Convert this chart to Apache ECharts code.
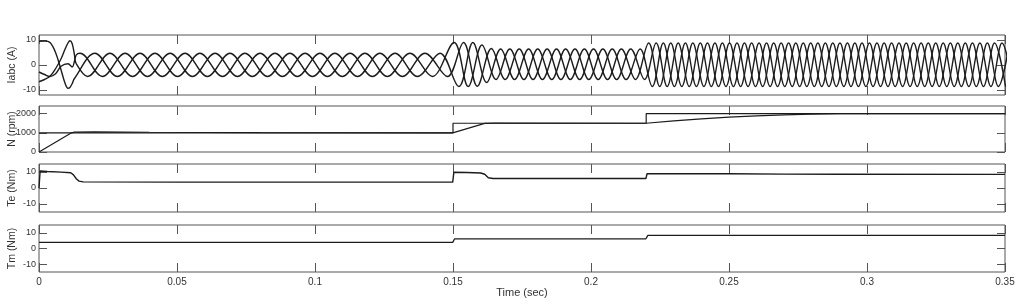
<!DOCTYPE html>
<html>
<head>
<meta charset="utf-8">
<script src="https://cdn.jsdelivr.net/npm/echarts@6/dist/echarts.min.js"></script>
<style>html,body{margin:0;padding:0;background:#fff}#c{width:1024px;height:306px}</style>
</head>
<body>
<div id="c"></div>
<script>
// ---- data ----
const timeTicks = [0, 0.05, 0.1, 0.15, 0.2, 0.25, 0.3, 0.35];
const currentTicks = [-10, 0, 10];
const speedTicks = [0, 1000, 2000];
const torqueTicks = [-10, 0, 10];
const axisNames = ['Iabc (A)', 'N (rpm)', 'Te (Nm)', 'Tm (Nm)'];

// phase currents: start-up transient, then peaks / troughs of each phase
const iaData = [[0,9.5],[0.002,9.6],[0.004,9.0],[0.006,5.0],[0.008,-2.0],[0.0095,-7.5],[0.0105,-9.3],[0.0112,-9.0],[0.012,-7.5],[0.0128,-5.5],
 [0.0203,4.7],[0.0284,-4.6],[0.0366,4.7],[0.0447,-4.6],[0.0529,4.7],[0.0610,-4.6],[0.0692,4.7],[0.0773,-4.6],[0.0855,4.7],[0.0936,-4.6],[0.1018,4.7],[0.1099,-4.6],[0.1181,4.7],[0.1262,-4.6],[0.1344,4.7],[0.1425,-4.6],
 [0.1504,9.0],[0.1555,-8.6],[0.1605,8.0],[0.1656,-5.8],[0.1706,6.4],[0.1757,-5.8],[0.1807,6.4],[0.1858,-5.8],[0.1908,6.4],[0.1959,-5.8],[0.2009,6.4],[0.2060,-5.8],[0.2110,6.4],[0.2161,-5.8],
 [0.2209,8.8],[0.2249,-8.6],[0.2289,8.8],[0.2329,-8.6],[0.2369,8.8],[0.2409,-8.6],[0.2449,8.8],[0.2489,-8.6],[0.2529,8.8],[0.2569,-8.6],[0.2609,8.8],[0.2649,-8.6],[0.2689,8.8],[0.2729,-8.6],[0.2769,8.8],[0.2809,-8.6],[0.2849,8.8],[0.2889,-8.6],[0.2929,8.8],[0.2969,-8.6],[0.3009,8.8],[0.3049,-8.6],[0.3089,8.8],[0.3129,-8.6],[0.3169,8.8],[0.3209,-8.6],[0.3249,8.8],[0.3289,-8.6],[0.3329,8.8],[0.3369,-8.6],[0.3409,8.8],[0.3449,-8.6],[0.3489,8.8],[0.3529,-8.6]];
const ibData = [[0,-2.8],[0.002,-3.8],[0.004,-4.6],[0.006,-3.5],[0.008,-0.5],[0.0105,0.5],[0.012,-0.8],[0.0135,4.0],
 [0.0149,4.7],[0.0230,-4.6],[0.0312,4.7],[0.0393,-4.6],[0.0475,4.7],[0.0556,-4.6],[0.0638,4.7],[0.0719,-4.6],[0.0801,4.7],[0.0882,-4.6],[0.0964,4.7],[0.1045,-4.6],[0.1127,4.7],[0.1208,-4.6],[0.1290,4.7],[0.1371,-4.6],[0.1453,4.7],
 [0.1521,-8.6],[0.1572,9.0],[0.1622,-7.0],[0.1673,6.4],[0.1723,-5.8],[0.1774,6.4],[0.1824,-5.8],[0.1875,6.4],[0.1925,-5.8],[0.1976,6.4],[0.2026,-5.8],[0.2077,6.4],[0.2127,-5.8],[0.2178,6.4],
 [0.2222,-8.6],[0.2262,8.8],[0.2302,-8.6],[0.2342,8.8],[0.2382,-8.6],[0.2422,8.8],[0.2462,-8.6],[0.2502,8.8],[0.2542,-8.6],[0.2582,8.8],[0.2622,-8.6],[0.2662,8.8],[0.2702,-8.6],[0.2742,8.8],[0.2782,-8.6],[0.2822,8.8],[0.2862,-8.6],[0.2902,8.8],[0.2942,-8.6],[0.2982,8.8],[0.3022,-8.6],[0.3062,8.8],[0.3102,-8.6],[0.3142,8.8],[0.3182,-8.6],[0.3222,8.8],[0.3262,-8.6],[0.3302,8.8],[0.3342,-8.6],[0.3382,8.8],[0.3422,-8.6],[0.3462,8.8],[0.3502,-8.6]];
const icData = [[0,-6.7],[0.002,-5.8],[0.004,-4.5],[0.006,-1.5],[0.008,2.5],[0.0095,6.5],[0.0105,8.8],[0.0112,9.7],[0.012,8.6],[0.0128,4.4],[0.0135,0.5],
 [0.0176,-4.6],[0.0257,4.7],[0.0339,-4.6],[0.0420,4.7],[0.0502,-4.6],[0.0583,4.7],[0.0665,-4.6],[0.0746,4.7],[0.0828,-4.6],[0.0909,4.7],[0.0991,-4.6],[0.1072,4.7],[0.1154,-4.6],[0.1235,4.7],[0.1317,-4.6],[0.1398,4.7],[0.1480,-4.6],
 [0.1538,9.0],[0.1588,-8.5],[0.1639,6.6],[0.1689,-5.8],[0.1740,6.4],[0.1790,-5.8],[0.1841,6.4],[0.1891,-5.8],[0.1942,6.4],[0.1992,-5.8],[0.2043,6.4],[0.2093,-5.8],[0.2144,6.4],[0.2194,-5.8],
 [0.2236,8.8],[0.2276,-8.6],[0.2316,8.8],[0.2356,-8.6],[0.2396,8.8],[0.2436,-8.6],[0.2476,8.8],[0.2516,-8.6],[0.2556,8.8],[0.2596,-8.6],[0.2636,8.8],[0.2676,-8.6],[0.2716,8.8],[0.2756,-8.6],[0.2796,8.8],[0.2836,-8.6],[0.2876,8.8],[0.2916,-8.6],[0.2956,8.8],[0.2996,-8.6],[0.3036,8.8],[0.3076,-8.6],[0.3116,8.8],[0.3156,-8.6],[0.3196,8.8],[0.3236,-8.6],[0.3276,8.8],[0.3316,-8.6],[0.3356,8.8],[0.3396,-8.6],[0.3436,8.8],[0.3476,-8.6],[0.3516,8.8]];

const speedRef = [[0,1000],[0.15,1000],[0.15,1500],[0.22,1500],[0.22,2000],[0.35,2000]];
const speedAct = [[0,0],[0.0118,1000],[0.0128,1040],[0.02,1045],[0.04,1030],[0.08,1012],[0.1499,1000],[0.1615,1490],[0.165,1505],[0.2199,1500],[0.23,1625],[0.24,1730],[0.25,1815],[0.26,1885],[0.27,1940],[0.28,1978],[0.29,1996],[0.3,2000],[0.35,2000]];
const teData = [[0,0],[0.0004,10.6],[0.003,10.3],[0.008,9.9],[0.0115,9.5],[0.0125,8.2],[0.0135,5.8],[0.0145,4.3],[0.016,3.8],[0.05,3.7],[0.1,3.7],[0.1499,3.7],[0.1503,9.8],[0.155,9.7],[0.16,9.4],[0.1615,8.6],[0.1628,6.4],[0.1645,5.9],[0.2199,5.9],[0.2203,8.9],[0.23,9.0],[0.25,8.9],[0.27,8.7],[0.29,8.6],[0.35,8.5]];
const tmData = [[0,3.9],[0.1499,3.9],[0.1506,6.2],[0.2199,6.2],[0.2206,8.4],[0.35,8.4]];

// ---- chart ----
const FONT = 'Liberation Sans, Arial, Helvetica, sans-serif';
const FRAME = '#555';
const INK = '#1c1c1c';
const panels = [
  {top: 35, height: 60, min: -12, max: 12, ticks: currentTicks},
  {top: 106, height: 46, min: 0, max: 2400, ticks: speedTicks},
  {top: 164, height: 48, min: -15, max: 15, ticks: torqueTicks},
  {top: 225, height: 47, min: -15, max: 15, ticks: torqueTicks}
];
const grid = [], xAxis = [], yAxis = [];
panels.forEach((p, i) => {
  grid.push({left: 39, right: 19, top: p.top, height: p.height, show: true,
    borderColor: FRAME, borderWidth: 1, backgroundColor: 'transparent',
    containLabel: false, outerBoundsMode: 'none'});
  ['bottom', 'top'].forEach(pos => {
    const last = (i === 3 && pos === 'bottom');
    xAxis.push({gridIndex: i, type: 'value', position: pos, min: 0, max: 0.35, interval: 0.05,
      axisLine: {show: false, onZero: false}, splitLine: {show: false},
      axisTick: {show: true, inside: true, length: 9, customValues: timeTicks, lineStyle: {color: FRAME, width: 1}},
      axisLabel: {show: last, customValues: timeTicks, margin: 5, fontSize: 10, color: '#333', fontFamily: FONT,
        formatter: v => String(+(+v).toFixed(2))},
      name: last ? 'Time (sec)' : '', nameLocation: 'middle', nameGap: 15, nameMoveOverlap: false,
      nameTextStyle: {fontSize: 11, color: '#333', fontFamily: FONT}});
  });
  ['left', 'right'].forEach(pos => {
    const isLeft = pos === 'left';
    yAxis.push({gridIndex: i, type: 'value', position: pos, min: p.min, max: p.max,
      axisLine: {show: false, onZero: false}, splitLine: {show: false},
      axisTick: {show: true, inside: true, length: 8, customValues: p.ticks, lineStyle: {color: FRAME, width: 1}},
      axisLabel: {show: isLeft, customValues: p.ticks, margin: 3, fontSize: 9, color: '#333', fontFamily: FONT,
        formatter: v => String(+v)},
      name: isLeft ? axisNames[i] : '', nameLocation: 'middle', nameGap: 21, nameMoveOverlap: false,
      nameTextStyle: {fontSize: 10.5, color: '#333', fontFamily: FONT}});
  });
});
function line(data, i, opts) {
  return Object.assign({type: 'line', data: data, xAxisIndex: 2 * i, yAxisIndex: 2 * i,
    showSymbol: false, symbol: 'none', clip: true, animation: false,
    lineStyle: {color: INK, width: 1.4}}, opts || {});
}
const series = [
  line(iaData, 0, {smooth: 0.36}),
  line(ibData, 0, {smooth: 0.36}),
  line(icData, 0, {smooth: 0.36}),
  line(speedRef, 1, {lineStyle: {color: INK, width: 1.2}}),
  line(speedAct, 1, {lineStyle: {color: INK, width: 1.2}}),
  line(teData, 2, {lineStyle: {color: INK, width: 1.4}}),
  line(tmData, 3, {lineStyle: {color: INK, width: 1.3}})
];
const chart = echarts.init(document.getElementById('c'), null, {renderer: 'canvas'});
chart.setOption({animation: false, backgroundColor: '#fff', grid, xAxis, yAxis, series});
</script>
</body>
</html>
